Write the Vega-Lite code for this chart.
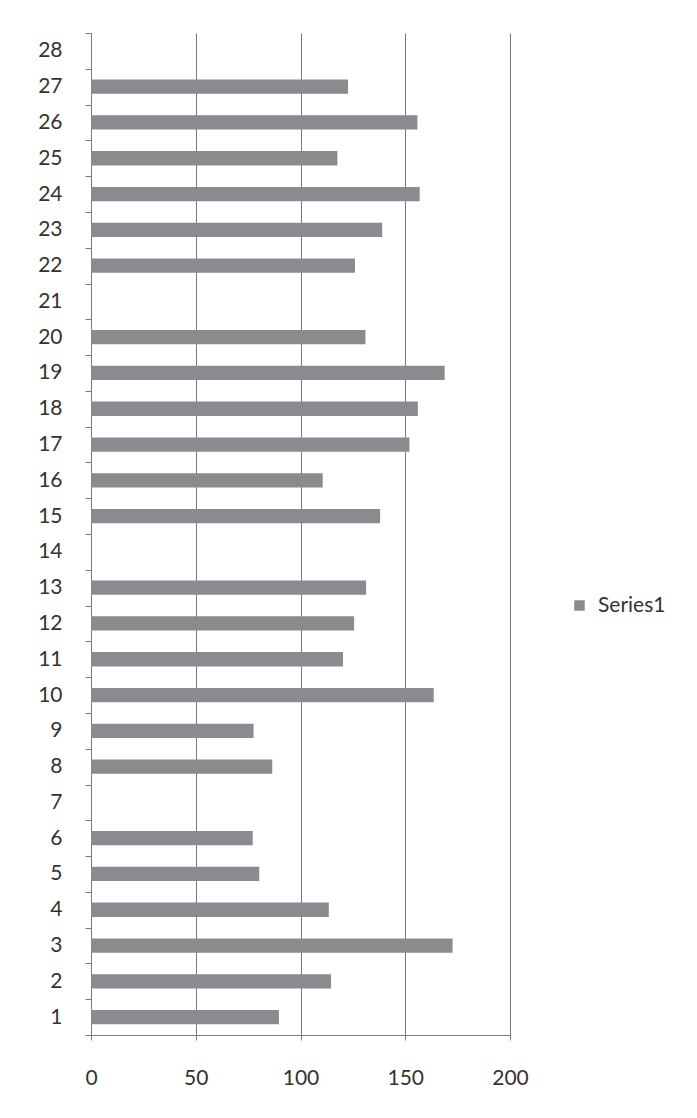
{
  "$schema": "https://vega.github.io/schema/vega-lite/v6.json",
  "width": 419,
  "height": 1002,
  "autosize": {"type": "none"},
  "padding": {"left": 91, "top": 33, "right": 187, "bottom": 83},
  "background": "white",
  "data": {
    "values": [
      {"cat": 1, "value": 89.7, "series": "Series1"},
      {"cat": 2, "value": 114.6, "series": "Series1"},
      {"cat": 3, "value": 172.6, "series": "Series1"},
      {"cat": 4, "value": 113.5, "series": "Series1"},
      {"cat": 5, "value": 80.3, "series": "Series1"},
      {"cat": 6, "value": 77.2, "series": "Series1"},
      {"cat": 8, "value": 86.5, "series": "Series1"},
      {"cat": 9, "value": 77.6, "series": "Series1"},
      {"cat": 10, "value": 163.6, "series": "Series1"},
      {"cat": 11, "value": 120.3, "series": "Series1"},
      {"cat": 12, "value": 125.6, "series": "Series1"},
      {"cat": 13, "value": 131.3, "series": "Series1"},
      {"cat": 15, "value": 138, "series": "Series1"},
      {"cat": 16, "value": 110.6, "series": "Series1"},
      {"cat": 17, "value": 152, "series": "Series1"},
      {"cat": 18, "value": 156, "series": "Series1"},
      {"cat": 19, "value": 168.8, "series": "Series1"},
      {"cat": 20, "value": 131, "series": "Series1"},
      {"cat": 22, "value": 126, "series": "Series1"},
      {"cat": 23, "value": 139, "series": "Series1"},
      {"cat": 24, "value": 156.9, "series": "Series1"},
      {"cat": 25, "value": 117.6, "series": "Series1"},
      {"cat": 26, "value": 155.8, "series": "Series1"},
      {"cat": 27, "value": 122.7, "series": "Series1"}
    ]
  },
  "mark": {"type": "bar", "opacity": 1, "height": {"band": 0.4}},
  "encoding": {
    "y": {
      "field": "cat",
      "type": "ordinal",
      "scale": {
        "domain": [28,27,26,25,24,23,22,21,20,19,18,17,16,15,14,13,12,11,10,9,8,7,6,5,4,3,2,1],
        "paddingInner": 0,
        "paddingOuter": 0
      },
      "axis": {
        "title": null,
        "tickBand": "extent",
        "grid": false,
        "domain": true,
        "domainWidth": 1,
        "domainColor": "#7a7a7a",
        "tickColor": "#7a7a7a",
        "tickSize": 6,
        "labelFont": "Lato",
        "labelFontSize": 21,
        "labelColor": "#333333",
        "labelPadding": 23
      }
    },
    "x": {
      "field": "value",
      "type": "quantitative",
      "scale": {"domain": [0, 200], "nice": false},
      "axis": {
        "title": null,
        "values": [0, 50, 100, 150, 200],
        "grid": true,
        "gridColor": "#7a7a7a",
        "gridWidth": 1,
        "domain": true,
        "domainWidth": 1,
        "domainColor": "#7a7a7a",
        "tickColor": "#7a7a7a",
        "tickSize": 5,
        "labelFlush": false,
        "labelFont": "Lato",
        "labelFontSize": 21,
        "labelColor": "#333333",
        "labelPadding": 27
      }
    },
    "color": {
      "field": "series",
      "type": "nominal",
      "scale": {"range": ["#8b8a8f"]},
      "legend": {
        "title": null,
        "orient": "none",
        "legendX": 478,
        "legendY": 562,
        "symbolType": "square",
        "symbolSize": 110,
        "symbolOpacity": 1,
        "labelFont": "Lato",
        "labelFontSize": 21,
        "labelColor": "#333333",
        "labelOffset": 8
      }
    }
  },
  "config": {"view": {"stroke": null}}
}
